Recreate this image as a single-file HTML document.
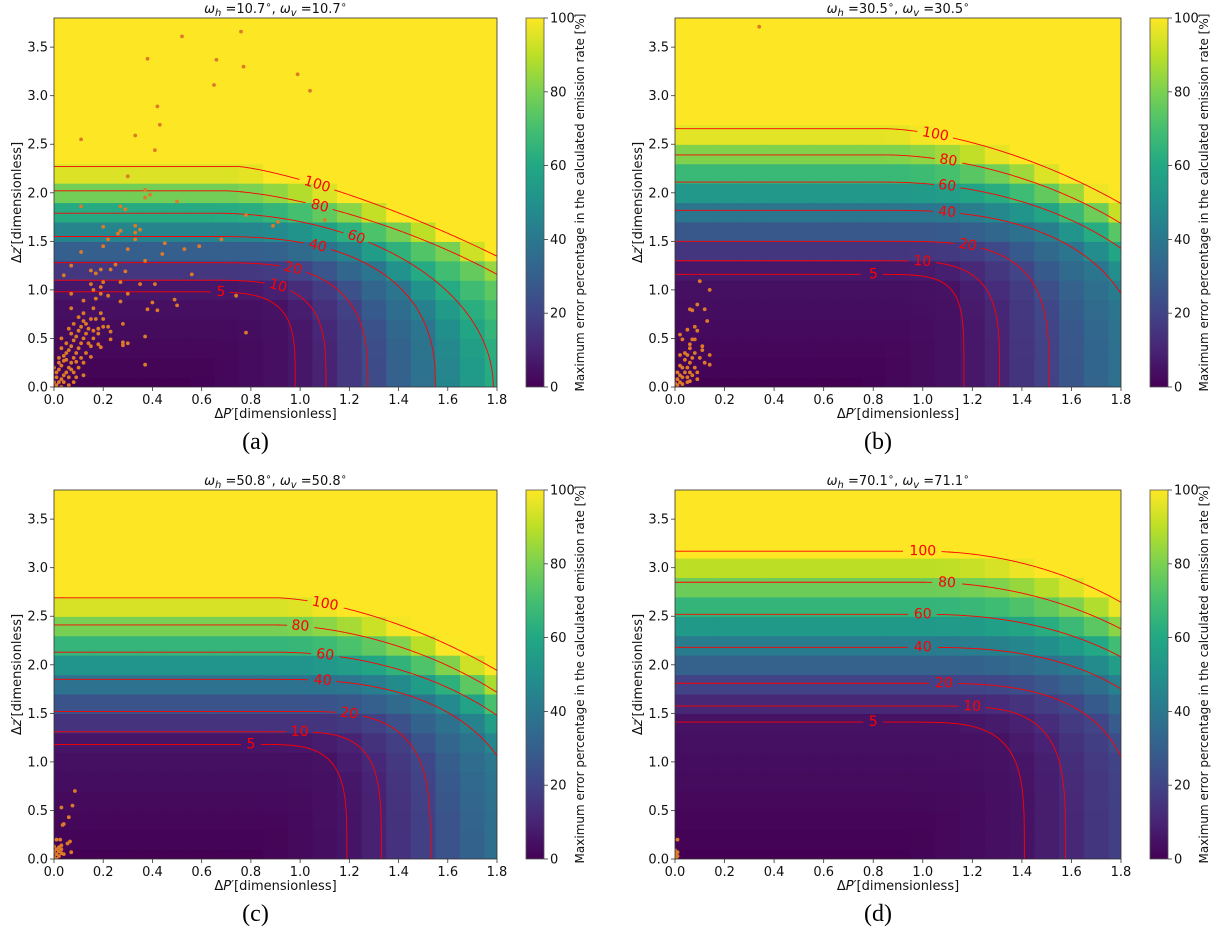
<!DOCTYPE html>
<html><head><meta charset="utf-8"><title>Error maps</title>
<style>html,body{margin:0;padding:0;background:#fff;}svg{display:block;font-family:"DejaVu Sans","Liberation Sans",sans-serif;}</style>
</head><body>
<svg id="fig" width="1222" height="931" viewBox="0 0 1222 931" xmlns="http://www.w3.org/2000/svg">
<defs>
<linearGradient id="vir" x1="0" y1="1" x2="0" y2="0">
<stop offset="0" stop-color="#440154"/><stop offset="0.1" stop-color="#482475"/><stop offset="0.2" stop-color="#414487"/><stop offset="0.3" stop-color="#355f8d"/><stop offset="0.4" stop-color="#2a788e"/><stop offset="0.5" stop-color="#21918c"/><stop offset="0.6" stop-color="#22a884"/><stop offset="0.7" stop-color="#44bf70"/><stop offset="0.8" stop-color="#7ad151"/><stop offset="0.9" stop-color="#bddf26"/><stop offset="1" stop-color="#fde725"/>
</linearGradient>
</defs>
</svg>
<script>
// ---- chart data ----
const levels = [5, 10, 20, 40, 60, 80, 100];
const cbarTicks = [0, 20, 40, 60, 80, 100];
const xTicks = [0.0, 0.2, 0.4, 0.6, 0.8, 1.0, 1.2, 1.4, 1.6, 1.8];
const yTicks = [0.0, 0.5, 1.0, 1.5, 2.0, 2.5, 3.0, 3.5];
const panelTitlesH = ["10.7", "30.5", "50.8", "70.1"];
const panelTitlesV = ["10.7", "30.5", "50.8", "71.1"];
const panelLetters = ["(a)", "(b)", "(c)", "(d)"];

const aYint = [0.98, 1.10, 1.28, 1.55, 1.79, 2.02, 2.27];
const aXint = [0.98, 1.105, 1.275, 1.55, 1.785, 2.31, 2.56];
const aFlat = [0.55, 0.6, 0.65, 0.65, 0.65, 0.7, 0.75];
const aPow  = [4, 3.5, 3, 2.5, 2, 1.5, 1.3];
const aLabX = [0.68, 0.91, 0.97, 1.07, 1.23, 1.08, 1.07];

const bYint = [1.16, 1.30, 1.50, 1.82, 2.11, 2.39, 2.66];
const bXint = [1.166, 1.31, 1.51, 1.89, 2.14, 2.30, 2.48];
const bFlat = [0.75, 0.8, 0.85, 0.85, 0.85, 0.85, 0.85];
const bPow  = [5, 4, 3.5, 2.5, 2, 1.8, 1.6];
const bLabX = [0.80, 1.0, 1.18, 1.10, 1.10, 1.10, 1.05];

const cYint = [1.18, 1.31, 1.52, 1.85, 2.13, 2.41, 2.69];
const cXint = [1.19, 1.33, 1.53, 1.91, 2.15, 2.29, 2.48];
const cFlat = [0.8, 0.9, 0.95, 0.9, 0.9, 0.9, 0.9];
const cPow  = [4, 4, 3.5, 2.5, 2, 1.8, 1.6];
const cLabX = [0.80, 1.0, 1.2, 1.09, 1.10, 1.0, 1.10];

const dYint = [1.41, 1.575, 1.81, 2.18, 2.52, 2.85, 3.17];
const dXint = [1.41, 1.576, 1.86, 2.13, 2.30, 2.44, 2.45];
const dFlat = [0.9, 1.0, 1.0, 1.0, 1.0, 1.0, 1.0];
const dPow  = [4, 4, 3, 2.5, 2.2, 2, 2];
const dLabX = [0.80, 1.2, 1.09, 1.0, 1.0, 1.1, 1.0];

const aPts = [[0.52,3.61],[0.38,3.38],[0.76,3.66],[0.66,3.37],[0.77,3.30],[0.65,3.11],[0.99,3.22],[1.04,3.05],[0.42,2.89],[0.43,2.70],[0.33,2.59],[0.11,2.55],[0.41,2.44],[0.30,2.17],
[0.37,2.03],[0.39,1.98],[0.37,1.95],[0.50,1.91],[0.11,1.86],[0.27,1.86],[0.29,1.83],[0.78,1.77],[1.10,1.72],[0.91,1.70],[0.89,1.66],[0.20,1.65],[0.33,1.66],[0.35,1.62],[0.27,1.61],[0.33,1.59],[0.26,1.58],[0.22,1.52],[0.33,1.52],[0.68,1.52],[0.45,1.48],[0.20,1.45],[0.59,1.45],[0.30,1.42],[0.53,1.42],[0.11,1.39],[0.44,1.37],[0.37,1.30],[0.25,1.26],[0.07,1.25],[0.15,1.20],[0.19,1.21],[0.23,1.21],[0.17,1.17],[0.04,1.15],[0.56,1.16],[0.29,1.19],[0.20,1.08],[0.27,1.08],[0.15,1.06],[0.35,1.06],[0.41,1.06],[0.19,1.03],[0.16,1.00],[0.22,0.94],[0.07,0.96],[0.30,0.96],[0.19,0.96],[0.74,0.94],[0.17,0.91],[0.49,0.90],[0.12,0.89],[0.27,0.88],[0.40,0.87],[0.50,0.84],[0.07,0.81],[0.16,0.81],[0.38,0.80],[0.42,0.79],[0.12,0.76],[0.19,0.76],[0.15,0.70],[0.17,0.70],[0.20,0.70],[0.28,0.65],[0.20,0.62],[0.22,0.62],[0.78,0.56],[0.18,0.55],[0.23,0.57],[0.37,0.52],[0.23,0.49],[0.28,0.46],[0.30,0.45],[0.28,0.43],[0.18,0.44],[0.19,0.41],[0.15,0.31],[0.37,0.23],
[0.01,0.02],[0.02,0.05],[0.03,0.08],[0.01,0.1],[0.04,0.12],[0.05,0.15],[0.02,0.18],[0.06,0.2],[0.03,0.22],[0.07,0.25],[0.05,0.28],[0.08,0.3],[0.04,0.32],[0.09,0.35],[0.06,0.38],[0.1,0.4],[0.07,0.42],[0.11,0.45],[0.08,0.48],[0.12,0.5],[0.09,0.52],[0.13,0.55],[0.1,0.58],[0.06,0.6],[0.11,0.62],[0.08,0.65],[0.12,0.68],[0.1,0.72],[0.14,0.6],[0.02,0.3],[0.03,0.4],[0.05,0.45],[0.0,0.05],[0.01,0.15],[0.04,0.05],[0.06,0.1],[0.08,0.15],[0.1,0.2],[0.12,0.25],[0.13,0.35],[0.15,0.42],[0.16,0.5],[0.09,0.1],[0.11,0.3],[0.14,0.45],[0.07,0.55],[0.03,0.5],[0.0,0.2],[0.02,0.25],[0.05,0.35],[0.16,0.58],[0.18,0.6],[0.13,0.65],[0.06,0.02],[0.03,0.0],[0.08,0.05],[0.12,0.12],[0.07,0.18],[0.09,0.26],[0.04,0.27]];
const bPts = [[0.34,3.71],[0.10,1.09],[0.14,1.00],[0.09,0.85],[0.06,0.80],[0.07,0.79],[0.12,0.80],[0.13,0.68],[0.05,0.59],[0.09,0.58],[0.08,0.62],[0.02,0.54],[0.03,0.49],[0.07,0.49],[0.08,0.49],[0.06,0.44],[0.11,0.42],[0.06,0.40],[0.11,0.38],[0.02,0.33],[0.05,0.33],[0.14,0.33],[0.12,0.25],[0.14,0.23],[0.09,0.08],
[0.01,0.02],[0.02,0.05],[0.03,0.1],[0.04,0.15],[0.05,0.2],[0.06,0.25],[0.07,0.3],[0.02,0.12],[0.01,0.08],[0.03,0.2],[0.05,0.1],[0.06,0.15],[0.08,0.2],[0.04,0.28],[0.07,0.12],[0.0,0.04],[0.03,0.03],[0.05,0.05],[0.08,0.35],[0.1,0.3],[0.02,0.22],[0.06,0.06],[0.09,0.15],[0.04,0.35],[0.01,0.15]];
const cPts = [[0.085,0.70],[0.03,0.53],[0.075,0.55],[0.06,0.43],[0.04,0.36],[0.035,0.35],[0.01,0.20],[0.025,0.20],[0.065,0.18],[0.055,0.16],[0.07,0.07],[0.04,0.05],
[0.0,0.02],[0.01,0.05],[0.02,0.08],[0.01,0.1],[0.02,0.12],[0.03,0.14],[0.0,0.08],[0.01,0.0],[0.02,0.03],[0.03,0.06],[0.0,0.13],[0.03,0.1]];
const dPts = [[0.01,0.20],[0.0,0.02],[0.005,0.05],[0.01,0.07],[0.0,0.09],[0.01,0.03],[0.005,0.0],[0.0,0.05]];

// ---- layout ----
const NS = "http://www.w3.org/2000/svg";
const svg = document.getElementById('fig');
const XMAX = 1.8, YMAX = 3.8;
const vstops = ["#440154","#482475","#414487","#355f8d","#2a788e","#21918c","#22a884","#44bf70","#7ad151","#bddf26","#fde725"];
function hex2rgb(h){return [parseInt(h.substr(1,2),16),parseInt(h.substr(3,2),16),parseInt(h.substr(5,2),16)];}
function viridis(v){
  let t = Math.max(0, Math.min(1, v/100)) * 10;
  let i = Math.min(9, Math.floor(t)), f = t - i;
  const a = hex2rgb(vstops[i]), b = hex2rgb(vstops[i+1]);
  return 'rgb(' + a.map((c,k)=>Math.round(c+(b[k]-c)*f)).join(',') + ')';
}
function mk(tag, attrs, parent){
  const e = document.createElementNS(NS, tag);
  for (const k in attrs) e.setAttribute(k, attrs[k]);
  (parent||svg).appendChild(e);
  return e;
}

const panels = [
  {L:54, R:497, T:18, B:387, cb:526, Y:aYint, X:aXint, F:aFlat, P:aPow, LX:aLabX, pts:aPts},
  {L:675, R:1121, T:18, B:387, cb:1150, Y:bYint, X:bXint, F:bFlat, P:bPow, LX:bLabX, pts:bPts},
  {L:54, R:497, T:490, B:859, cb:526, Y:cYint, X:cXint, F:cFlat, P:cPow, LX:cLabX, pts:cPts},
  {L:675, R:1121, T:490, B:859, cb:1150, Y:dYint, X:dXint, F:dFlat, P:dPow, LX:dLabX, pts:dPts}
];

function sVal(cfg, i, x, y){
  const dx = Math.max(0, x - cfg.F[i]) / (cfg.X[i] - cfg.F[i]);
  const s = Math.pow(dx, cfg.P[i]) + Math.pow(Math.max(0,y) / cfg.Y[i], cfg.P[i]);
  return Math.pow(s, 1/cfg.P[i]);
}
function fieldValue(cfg, x, y){
  const r = levels.map((_, i) => sVal(cfg, i, x, y));
  if (r[0] <= 1) return levels[0] * r[0];
  for (let i = 0; i < levels.length - 1; i++){
    if (r[i] > 1 && r[i+1] <= 1){
      const t = (r[i] - 1) / (r[i] - r[i+1]);
      return levels[i] + t * (levels[i+1] - levels[i]);
    }
  }
  return 101;
}
function contourPts(cfg, i){
  const b = cfg.Y[i], a = cfg.X[i], x0 = cfg.F[i], p = cfg.P[i];
  const out = [];
  for (let x = 0; x < x0; x += 0.02) out.push([x, b]);
  for (let k = 0; k <= 300; k++){
    const th = Math.PI/2 * (1 - k/300);
    out.push([x0 + (a - x0) * Math.pow(Math.cos(th), 2/p), b * Math.pow(Math.sin(th), 2/p)]);
  }
  return out;
}

panels.forEach((cfg, pi) => {
  const sx = x => cfg.L + x / XMAX * (cfg.R - cfg.L);
  const sy = y => cfg.B - y / YMAX * (cfg.B - cfg.T);
  const g = mk('g', {});
  
  
  const clipId = 'clip' + pi;
  const cp = mk('clipPath', {id: clipId}, g);
  mk('rect', {x:cfg.L, y:cfg.T, width:cfg.R-cfg.L, height:cfg.B-cfg.T}, cp);

  const hm = mk('g', {'clip-path':'url(#'+clipId+')'}, g);
  
  
  for (let xi = 0; xi <= 18; xi++){
    for (let yi = 0; yi <= 19; yi++){
      const cx = xi * 0.1, cy = yi * 0.2;
      const v = fieldValue(cfg, cx, cy);
      const x1 = sx(cx - 0.05), x2 = sx(cx + 0.05), y1 = sy(cy + 0.1), y2 = sy(cy - 0.1);
      const r = mk('rect', {x:x1.toFixed(2), y:y1.toFixed(2), width:(x2-x1+0.6).toFixed(2), height:(y2-y1+0.6).toFixed(2), fill:viridis(v)}, hm);
      
      
    }
  }
  const cg = mk('g', {'clip-path':'url(#'+clipId+')'}, g);
  levels.forEach((lv, i) => {
    const raw = contourPts(cfg, i);
    const pts = raw.map(q => [sx(q[0]), sy(q[1])]);
    const lx = cfg.LX[i];
    let best = 0, bd = 1e9;
    raw.forEach((q, k) => { const d = Math.abs(q[0] - lx); if (d < bd){bd = d; best = k;} });
    const c = pts[best];
    const n1 = pts[Math.max(0, best-4)], n2 = pts[Math.min(pts.length-1, best+4)];
    let ang = Math.atan2(n2[1]-n1[1], n2[0]-n1[0]) * 180 / Math.PI;
    const txt = String(lv);
    const half = txt.length * 4.6 + 4;
    let d = '', pen = false;
    pts.forEach(q => {
      const inGap = Math.hypot(q[0]-c[0], q[1]-c[1]) < half;
      if (inGap){ pen = false; return; }
      d += (pen ? 'L' : 'M') + q[0].toFixed(2) + ' ' + q[1].toFixed(2);
      pen = true;
    });
    const path = mk('path', {d:d, fill:'none', stroke:'#ff0000', 'stroke-width':'0.9'}, cg);
    
    
    const t = mk('text', {x:c[0].toFixed(1), y:c[1].toFixed(1), fill:'#ff0000', 'font-size':'14', 'text-anchor':'middle', 'dominant-baseline':'central', transform:'rotate('+ang.toFixed(1)+' '+c[0].toFixed(1)+' '+c[1].toFixed(1)+')'}, g);
    t.textContent = txt;
    
    
  });
  const sg = mk('g', {'clip-path':'url(#'+clipId+')'}, g);
  cfg.pts.forEach(q => {
    const c = mk('circle', {cx:sx(q[0]).toFixed(1), cy:sy(q[1]).toFixed(1), r:'1.9', fill:'#dd7a26'}, sg);
    
    
  });
  const fr = mk('rect', {x:cfg.L, y:cfg.T, width:cfg.R-cfg.L, height:cfg.B-cfg.T, fill:'none', stroke:'#333', 'stroke-width':'0.8'}, g);
  
  
  xTicks.forEach(v => {
    const x = sx(v);
    mk('line', {x1:x, x2:x, y1:cfg.B, y2:cfg.B+4, stroke:'#333', 'stroke-width':'0.8'}, g);
    const t = mk('text', {x:x, y:cfg.B+17, 'font-size':'13', 'text-anchor':'middle', fill:'#111'}, g);
    t.textContent = v.toFixed(1);
    
    
  });
  yTicks.forEach(v => {
    const y = sy(v);
    mk('line', {x1:cfg.L-4, x2:cfg.L, y1:y, y2:y, stroke:'#333', 'stroke-width':'0.8'}, g);
    const t = mk('text', {x:cfg.L-6, y:y+4.5, 'font-size':'13', 'text-anchor':'end', fill:'#111'}, g);
    t.textContent = v.toFixed(1);
    
    
  });
  const mx = (cfg.L + cfg.R) / 2;
  const xt = mk('text', {x:mx, y:cfg.B+31, 'font-size':'13', 'text-anchor':'middle', fill:'#111'}, g);
  xt.innerHTML = 'Δ<tspan font-style="italic">P′</tspan>[dimensionless]';
  
  
  const yc = (cfg.T + cfg.B) / 2, yx = cfg.L - 33;
  const yt = mk('text', {x:yx, y:yc, 'font-size':'13', 'text-anchor':'middle', fill:'#111', transform:'rotate(-90 '+yx+' '+yc+')'}, g);
  yt.innerHTML = 'Δ<tspan font-style="italic">z′</tspan>[dimensionless]';
  
  
  const tt = mk('text', {x:mx, y:cfg.T-5, 'font-size':'13', 'text-anchor':'middle', fill:'#111'}, g);
  tt.innerHTML = '<tspan font-style="italic">ω</tspan><tspan font-size="10" dy="3" font-style="italic">h</tspan><tspan dy="-3"> =' + panelTitlesH[pi] + '<tspan font-size="10" dy="-5">∘</tspan><tspan dy="5">, </tspan><tspan font-style="italic">ω</tspan><tspan font-size="10" dy="3" font-style="italic">v</tspan><tspan dy="-3"> =' + panelTitlesV[pi] + '</tspan><tspan font-size="10" dy="-5">∘</tspan></tspan>';
  
  
  const pl = mk('text', {x:mx - 20, y:cfg.B+62, 'font-size':'24', 'text-anchor':'middle', fill:'#000', 'font-family':'"Liberation Serif", serif'}, g);
  pl.textContent = panelLetters[pi];
  
  
  const cbw = 18;
  const cb = mk('rect', {x:cfg.cb, y:cfg.T, width:cbw, height:cfg.B-cfg.T, fill:'url(#vir)', stroke:'#555', 'stroke-width':'0.8'}, g);
  
  
  cbarTicks.forEach(v => {
    const y = cfg.B - v / 100 * (cfg.B - cfg.T);
    mk('line', {x1:cfg.cb+cbw, x2:cfg.cb+cbw+4, y1:y, y2:y, stroke:'#333', 'stroke-width':'0.8'}, g);
    const t = mk('text', {x:cfg.cb+cbw+6, y:y+4.5, 'font-size':'13', fill:'#111'}, g);
    t.textContent = String(v);
    
    
  });
  const cx = cfg.cb + 58;
  const cl = mk('text', {x:cx, y:yc, 'font-size':'12', 'text-anchor':'middle', fill:'#111', transform:'rotate(-90 '+cx+' '+yc+')'}, g);
  cl.textContent = 'Maximum error percentage in the calculated emission rate [%]';
  
  
});
</script>
</body></html>
